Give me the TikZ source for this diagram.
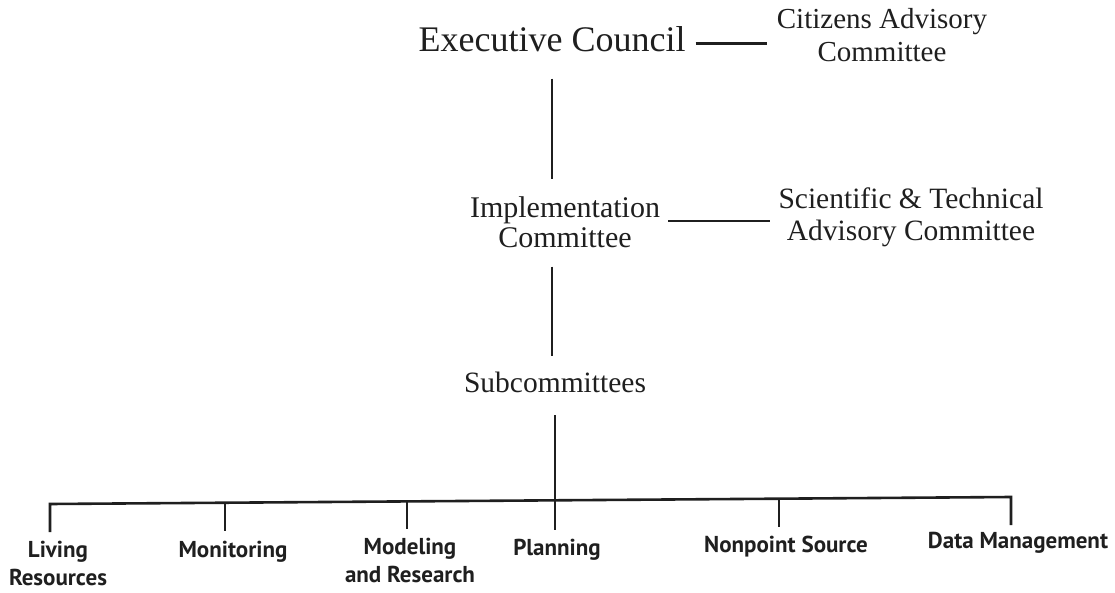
\documentclass[tikz,border=0pt]{standalone}
\usepackage{fontspec}
\setmainfont{Liberation Serif}
\newfontfamily\unitfont{PT Sans}
\begin{document}
\begin{tikzpicture}[x=1pt,y=-1pt,
  ink/.style={line width=2.6pt, draw=black!88, line join=miter},
  headlabel/.style={font=\fontsize{36}{40}\selectfont, inner sep=0pt, text=black!88},
  boardlabel/.style={font=\fontsize{29.5}{32}\selectfont, inner sep=0pt, align=center, text=black!88},
  unitlabel/.style={font=\unitfont\bfseries\fontsize{23}{28}\selectfont, inner sep=0pt, align=center, text=black!88},
]
\useasboundingbox[fill=white] (0,0) rectangle (1115,593);

% upper levels
\node[headlabel, anchor=base] (exec) at (552,52) {Executive Council};
\node[boardlabel, anchor=north, font=\fontsize{29}{33}\selectfont] (cac) at (882,8) {Citizens Advisory\\Committee};
\node[boardlabel, anchor=north, font=\fontsize{30}{30}\selectfont] (impl) at (565,196) {Implementation\\Committee};
\node[boardlabel, anchor=north, font=\fontsize{29.5}{32}\selectfont] (stac) at (911,188) {Scientific \& Technical\\Advisory Committee};
\node[boardlabel, anchor=base] (sub) at (555,392) {Subcommittees};

% side links to the advisory committees
\coordinate (execR) at ([yshift=-4pt]exec.east);
\draw[ink, shorten <=10pt, shorten >=10pt] (execR) -- (execR -| cac.west);
\coordinate (implR) at ([yshift=-25pt]impl.north east);
\draw[ink, shorten <=8pt, shorten >=8pt] (implR) -- (implR -| stac.west);

% main trunk
\draw[ink, shorten <=26pt, shorten >=17pt] (exec.south) -- (exec.south |- impl.north);
\draw[ink, shorten <=19pt, shorten >=15pt] (exec.south |- impl.south) -- (exec.south |- sub.north);

% subcommittee bar and drops
\coordinate (j1) at (50,504);
\coordinate (j2) at (225,502.7);
\coordinate (j3) at (407,501.4);
\coordinate (j4) at (555,500.3);
\coordinate (j5) at (779,498.7);
\coordinate (j6) at (1011,497);
\draw[ink] ([yshift=-28pt]j1) -- (j1) -- (j6) -- ([yshift=-28pt]j6);
\draw[ink, shorten <=23pt] (sub.south) -- (j4) -- ++(0,30);
\foreach \j in {j2,j3,j5} \draw[ink] (\j) -- ++(0,28);

% subcommittee names
\node[unitlabel, anchor=north] (liv) at (58,541) {Living\\Resources};
\node[unitlabel, anchor=base] (mon) at (233,557) {Monitoring};
\node[unitlabel, anchor=north] (mod) at (410,538) {Modeling\\and Research};
\node[unitlabel, anchor=base] (pla) at (557,555) {Planning};
\node[unitlabel, anchor=base] (non) at (786,552) {Nonpoint Source};
\node[unitlabel, anchor=base] (dat) at (1018,548) {Data Management};
\end{tikzpicture}
\end{document}
